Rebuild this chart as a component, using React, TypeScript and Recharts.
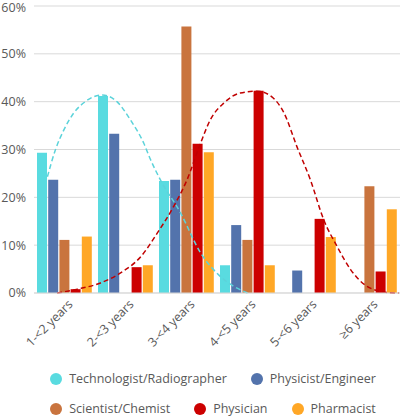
import { Bar, CartesianGrid, ComposedChart, Legend, Line, XAxis, YAxis } from "recharts"

const categories = ["1-<2 years", "2-<3 years", "3-<4 years", "4-<5 years", "5-<6 years", "≥6 years"]
const technologist = [29.3, 41.2, 23.4, 5.8, 0, 0]
const physicist = [23.7, 33.3, 23.7, 14.2, 4.7, 0]
const scientist = [11.1, 0, 55.7, 11.1, 0, 22.3]
const physician = [0.8, 5.4, 31.2, 42.3, 15.5, 4.5]
const pharmacist = [11.8, 5.8, 29.4, 5.8, 11.7, 17.5]
const yTicks = [0, 10, 20, 30, 40, 50, 60]

const seriesKeys = ["technologist", "physicist", "scientist", "physician", "pharmacist"]
const seriesNames = ["Technologist/Radiographer", "Physicist/Engineer", "Scientist/Chemist", "Physician", "Pharmacist"]
const seriesColors = ["#59DBE0", "#5373AC", "#C9743E", "#CC0000", "#FFA726"]

// dashed trend curves (x in category units, 0..6)
const techTrendX = [0.22, 0.35, 0.49, 0.65, 0.84, 1.12, 1.36, 1.58, 1.8, 1.91, 2.07, 2.4, 2.73, 3.06, 3.5]
const techTrendY = [24.3, 29.9, 34.1, 37.6, 40.0, 41.4, 40.0, 36.2, 31.3, 27.9, 23.7, 16.8, 8.4, 3.4, 0]
const physicianTrendX = [0.38, 0.71, 1.09, 1.42, 1.75, 2.02, 2.29, 2.51, 2.73, 2.89, 3.11, 3.38, 3.66, 3.9, 4.1, 4.31, 4.53, 4.75, 4.97, 5.19, 5.46, 5.79, 5.98]
const physicianTrendY = [0, 0.8, 2.1, 4.2, 7.6, 12.5, 18.1, 23.7, 31.3, 36.2, 39.7, 41.8, 42.2, 41.0, 37.6, 30.6, 23.7, 15.3, 9.7, 4.9, 1.4, 0.1, 0]

const data = categories.map((cat, i) => ({
  cat,
  technologist: technologist[i],
  physicist: physicist[i],
  scientist: scientist[i],
  physician: physician[i],
  pharmacist: pharmacist[i],
}))
const techTrend = techTrendX.map((u, i) => ({ u, v: techTrendY[i] }))
const physicianTrend = physicianTrendX.map((u, i) => ({ u, v: physicianTrendY[i] }))

const font = "'Open Sans', sans-serif"
const textGray = "#595959"

function YearTick({ x, y, payload }: any) {
  return (
    <g transform={`translate(${x + 6},${y + 1})`}>
      <text textAnchor="end" dy="0.35em" transform="rotate(-45)" fill={textGray} fontSize={12.5} fontFamily={font}>
        {payload.value}
      </text>
    </g>
  )
}

function LegendItem({ i }: { i: number }) {
  return (
    <span style={{ display: "inline-flex", alignItems: "center", margin: "0 12px", whiteSpace: "nowrap" }}>
      <span style={{ width: 12, height: 12, borderRadius: 6, background: seriesColors[i], marginRight: 7 }} />
      <span>{seriesNames[i]}</span>
    </span>
  )
}

function TwoRowLegend() {
  return (
    <div style={{ height: 62, paddingLeft: 26, fontFamily: font, fontSize: 12.5, color: textGray, lineHeight: "18px" }}>
      <div style={{ display: "flex", justifyContent: "center", marginTop: 14 }}>
        {[0, 1].map((i) => <LegendItem key={i} i={i} />)}
      </div>
      <div style={{ display: "flex", justifyContent: "center", marginTop: 12 }}>
        {[2, 3, 4].map((i) => <LegendItem key={i} i={i} />)}
      </div>
    </div>
  )
}

export default function App() {
  return (
    <div style={{ position: "absolute", left: 0, top: 0, width: 400, height: 418, background: "#fff" }}>
      <ComposedChart width={400} height={418} data={data} margin={{ top: 6, right: 0, bottom: 0, left: 0 }} barSize={10} barGap={1.2}>
        <CartesianGrid vertical={false} stroke="#D9D9D9" />
        <XAxis dataKey="cat" height={63} interval={0} tickLine={false} axisLine={{ stroke: "#D9D9D9" }} tick={<YearTick />} />
        <XAxis xAxisId="trend" type="number" dataKey="u" domain={[0, 6]} hide allowDataOverflow />
        <YAxis
          width={34}
          domain={[0, 60]}
          ticks={yTicks}
          tickFormatter={(v) => `${v}%`}
          axisLine={false}
          tickLine={false}
          tick={{ fill: textGray, fontSize: 12.5, fontFamily: font }}
        />
        <Legend verticalAlign="bottom" height={62} content={<TwoRowLegend />} />
        {seriesKeys.map((key, i) => (
          <Bar key={key} dataKey={key} name={seriesNames[i]} fill={seriesColors[i]} isAnimationActive={false} />
        ))}
        <Line
          xAxisId="trend"
          data={techTrend}
          dataKey="v"
          type="monotone"
          stroke="#5CD3DA"
          strokeWidth={1.5}
          strokeDasharray="5 3"
          dot={false}
          legendType="none"
          isAnimationActive={false}
        />
        <Line
          xAxisId="trend"
          data={physicianTrend}
          dataKey="v"
          type="monotone"
          stroke="#C00000"
          strokeWidth={1.5}
          strokeDasharray="5 3"
          dot={false}
          legendType="none"
          isAnimationActive={false}
        />
      </ComposedChart>
    </div>
  )
}
